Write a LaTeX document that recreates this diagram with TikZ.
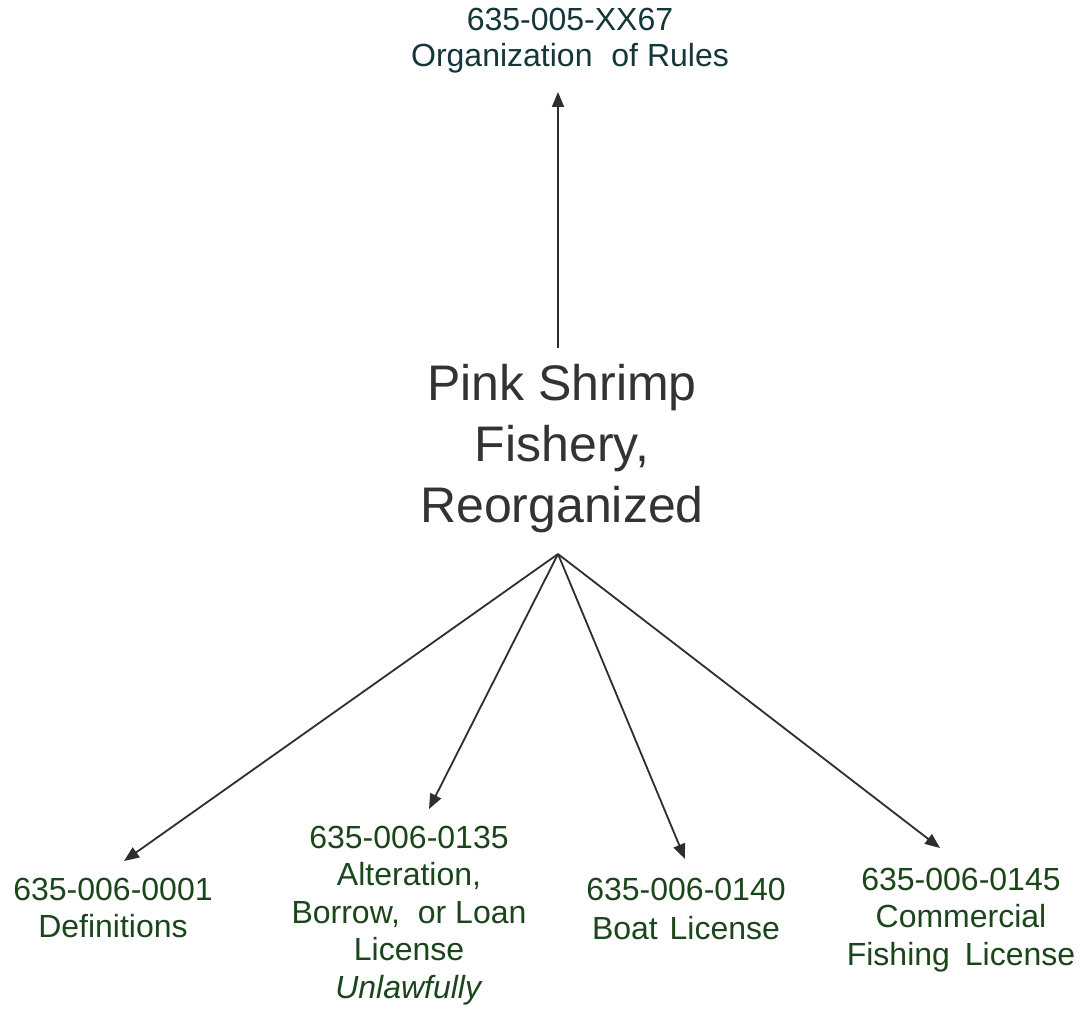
\documentclass[tikz,border=0pt]{standalone}
\usepackage{fontspec}
\setmainfont{Liberation Sans}
\usetikzlibrary{arrows.meta,calc}
\definecolor{topcol}{HTML}{15363A}
\definecolor{grncol}{HTML}{1B461B}
\definecolor{midcol}{HTML}{333333}
\definecolor{arrcol}{HTML}{2E2E2E}
\begin{document}
\begin{tikzpicture}[x=1pt,y=-1pt,
  lbl/.style={inner sep=0pt, outer sep=0pt, anchor=north, align=center,
    font=\fontsize{32}{37.5}\selectfont, text=grncol},
  conn/.style={draw=arrcol, line width=1.8pt, -{Triangle[length=15pt,width=12pt]}}]
\useasboundingbox[fill=white] (0,0) rectangle (1081,1018);

\node[lbl, text=topcol, font=\fontsize{32}{36}\selectfont] (top) at (570,8) {635-005-XX67\\Organization\hspace{10pt} of Rules};
\node[lbl, text=midcol, font=\fontsize{50}{61}\selectfont] (mid) at (562,364) {Pink Shrimp\\Fishery,\\Reorganized};
\node[lbl] (defs) at (113,878) {635-006-0001\\Definitions};
\node[lbl] (alt) at (409,826) {635-006-0135\\Alteration,\\Borrow,\hspace{9pt} or Loan\\License\\\textit{Unlawfully}};
\node[lbl, font=\fontsize{32}{39}\selectfont] (boat) at (686,878) {635-006-0140\\Boat\hspace{3pt} License};
\node[lbl] (comm) at (961,868) {635-006-0145\\Commercial\\Fishing\hspace{6pt} License};

\coordinate (hub) at (558,554);
\coordinate (hubtop) at ($(mid.north)+(-4,-16)$);
\coordinate (toptip) at ($(top.south)+(-12,19)$);
\coordinate (dtip) at ($(defs.north)+(11,-17)$);
\coordinate (atip) at ($(alt.north)+(20,-17)$);
\coordinate (btip) at ($(boat.north)+(-1,-19)$);
\coordinate (ctip) at ($(comm.north)+(-21,-20)$);

\draw[conn] (hubtop) -- (toptip);
\draw[conn] (hub) -- (dtip);
\draw[conn] (hub) -- (atip);
\draw[conn] (hub) -- (btip);
\draw[conn] (hub) -- (ctip);
\end{tikzpicture}
\end{document}
